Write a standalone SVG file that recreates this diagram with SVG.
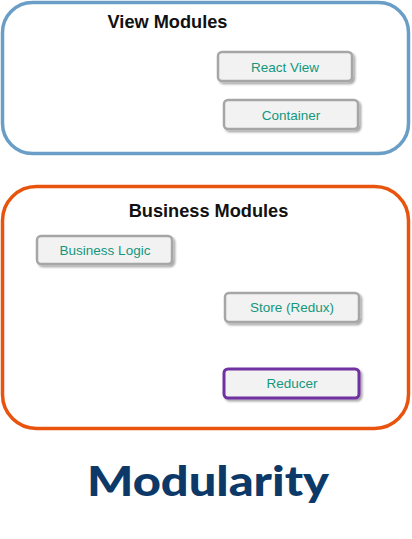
<svg xmlns="http://www.w3.org/2000/svg" width="412" height="539" viewBox="0 0 412 539">
<defs>
<filter id="sh" x="-10%" y="-20%" width="130%" height="160%">
<feDropShadow dx="2" dy="2" stdDeviation="1.2" flood-color="#000" flood-opacity="0.35"/>
</filter>
</defs>
<style>
.box{fill:#f2f2f2;stroke:#a6a6a6;stroke-width:2.5;filter:url(#sh)}
.lbl{font-family:"Liberation Sans",Arial,sans-serif;font-size:13.5px;fill:#14977d;text-anchor:middle}
.title{font-family:"Liberation Sans",Arial,sans-serif;font-size:18.2px;font-weight:bold;fill:#111;text-anchor:middle}
</style>
<rect width="412" height="539" fill="#fff"/>
<g id="view-modules">
<rect x="2.5" y="2.5" width="406" height="151" rx="30" fill="#fff" stroke="#6a9ec6" stroke-width="3.5"/>
<text class="title" x="167.5" y="28">View Modules</text>
</g>
<g id="react-view">
<rect class="box" x="218" y="52" width="134" height="29" rx="4"/>
<text class="lbl" x="285" y="72">React View</text>
</g>
<g id="container">
<rect class="box" x="224" y="100" width="134" height="29" rx="4"/>
<text class="lbl" x="291" y="120">Container</text>
</g>
<g id="business-modules">
<rect x="2.5" y="186.5" width="406" height="242" rx="34" fill="#fff" stroke="#e8540d" stroke-width="3.5"/>
<text class="title" x="208.5" y="217">Business Modules</text>
</g>
<g id="business-logic">
<rect class="box" x="37" y="236" width="135" height="28" rx="4"/>
<text class="lbl" x="105" y="255">Business Logic</text>
</g>
<g id="store">
<rect class="box" x="225" y="293" width="134" height="29" rx="4"/>
<text class="lbl" x="292" y="312">Store (Redux)</text>
</g>
<g id="reducer">
<rect class="box" x="224" y="369" width="135" height="29" rx="4" style="stroke:#7030a0;stroke-width:3"/>
<text class="lbl" x="292" y="388">Reducer</text>
</g>
<g id="connectors"></g>
<text x="208" y="496" font-family="Lato,'Open Sans',sans-serif" font-weight="900" font-size="41" fill="#0d3968" text-anchor="middle" textLength="242" lengthAdjust="spacingAndGlyphs">Modularity</text>
</svg>
